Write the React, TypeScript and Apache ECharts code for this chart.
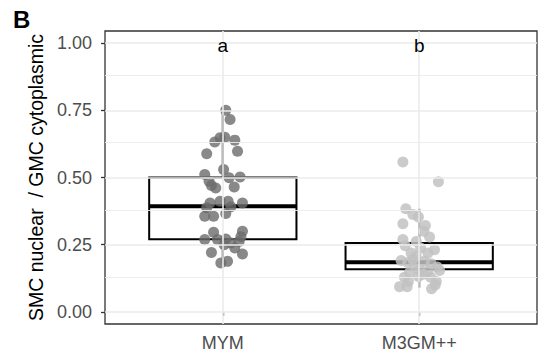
import React, { useEffect, useRef } from "react";
import * as echarts from "echarts";

const categories = ["MYM", "M3GM++"];
const yTicks = [0, 0.25, 0.5, 0.75, 1];
const yMinorTicks = [0.125, 0.375, 0.625, 0.875];
const letters = ["a", "b"];
const letterY = 1;

// box stats: [min, q1, median, q3, max]
const boxStats = [
  [0.18, 0.27, 0.393, 0.5, 0.75],
  [0.09, 0.159, 0.185, 0.256, 0.384],
];

const mymValues = [0.75, 0.716, 0.648, 0.65, 0.632, 0.639, 0.598, 0.588, 0.53, 0.511, 0.499, 0.502, 0.486, 0.47, 0.461, 0.465, 0.405, 0.412, 0.412, 0.405, 0.387, 0.391, 0.356, 0.356, 0.366, 0.296, 0.3, 0.269, 0.269, 0.271, 0.256, 0.262, 0.238, 0.25, 0.221, 0.215, 0.182, 0.188, 0.28];
const mymJitter = [0.015, 0.037, -0.014, 0.01, -0.041, 0.061, 0.075, -0.082, 0.004, -0.092, 0.032, 0.088, -0.07, -0.058, -0.036, 0.058, -0.065, -0.014, 0.027, 0.1, -0.082, 0.041, -0.092, -0.047, 0.015, -0.047, 0.1, -0.092, -0.027, 0.015, 0.041, 0.083, 0.061, 0.007, -0.058, 0.1, -0.01, 0.024, 0.092];

const m3Values = [0.558, 0.484, 0.384, 0.362, 0.353, 0.328, 0.321, 0.3, 0.279, 0.269, 0.246, 0.238, 0.231, 0.219, 0.206, 0.191, 0.184, 0.188, 0.179, 0.172, 0.167, 0.157, 0.147, 0.15, 0.154, 0.129, 0.132, 0.129, 0.113, 0.113, 0.094, 0.094, 0.086, 0.1, 0.14, 0.262, 0.194, 0.219];
const m3Jitter = [-0.083, 0.098, -0.068, -0.032, -0.004, -0.083, 0.032, 0.024, 0.053, -0.083, -0.071, 0.007, 0.078, -0.041, -0.015, -0.092, -0.058, 0.027, 0.061, -0.024, 0.092, 0.002, -0.049, 0.044, 0.104, -0.075, -0.004, 0.058, -0.055, 0.087, -0.1, -0.061, 0.063, 0.082, 0.019, -0.015, -0.032, 0.044];

const FONT = "Liberation Sans";

export default function App() {
  const ref = useRef<HTMLDivElement>(null);
  useEffect(() => {
    document.body.style.margin = "0";
    if (!ref.current) return;
    const chart = echarts.init(ref.current, null, { renderer: "svg" });
    const boxData = boxStats.map((s, i) => [i + 1, ...s]);
    const gridLines: any[] = [
      ...yTicks.map((v) => ({ yAxis: v, lineStyle: { color: "#EBEBEB", width: 1.6, type: "solid" } })),
      ...yMinorTicks.map((v) => ({ yAxis: v, lineStyle: { color: "#EBEBEB", width: 0.9, type: "solid" } })),
      ...categories.map((_, i) => ({ xAxis: i + 1, lineStyle: { color: "#EBEBEB", width: 1.6, type: "solid" } })),
    ];
    chart.setOption({
      animation: false,
      textStyle: { fontFamily: FONT },
      grid: {
        left: 105,
        right: 3,
        top: 31,
        bottom: 39,
        show: true,
        borderColor: "#333333",
        borderWidth: 1.3,
        backgroundColor: "#fff",
      },
      xAxis: {
        type: "value",
        min: 0.4,
        max: 2.6,
        axisLine: { show: false },
        splitLine: { show: false },
        axisTick: { show: true, customValues: [1, 2], length: 4, lineStyle: { color: "#333", width: 1.3 } },
        axisLabel: {
          customValues: [1, 2],
          formatter: (v: number) => categories[Math.round(v) - 1] ?? "",
          color: "#4D4D4D",
          fontSize: 18,
          margin: 10,
          fontFamily: FONT,
        },
      },
      yAxis: {
        type: "value",
        min: -0.045,
        max: 1.045,
        name: "SMC nuclear  / GMC cytoplasmic",
        nameLocation: "middle",
        nameGap: 57,
        nameRotate: 90,
        nameTextStyle: { color: "#000", fontSize: 19.5, fontFamily: FONT },
        axisLine: { show: false },
        splitLine: { show: false },
        axisTick: { show: true, customValues: yTicks, length: 4, lineStyle: { color: "#333", width: 1.3 } },
        axisLabel: {
          customValues: yTicks,
          formatter: (v: number) => v.toFixed(2),
          color: "#4D4D4D",
          fontSize: 18,
          margin: 13,
          fontFamily: FONT,
        },
      },
      series: [
        {
          type: "scatter",
          data: [],
          silent: true,
          z: 1,
          markLine: {
            silent: true,
            symbol: ["none", "none"],
            label: { show: false },
            data: gridLines,
          },
        },
        {
          type: "custom",
          z: 2,
          data: boxData,
          encode: { x: 0, y: [1, 2, 3, 4, 5] },
          renderItem: (params: any, api: any) => {
            const pos = api.value(0);
            const mn = api.value(1);
            const q1 = api.value(2);
            const med = api.value(3);
            const q3 = api.value(4);
            const mx = api.value(5);
            const hw = 0.375;
            const pTopL = api.coord([pos - hw, q3]);
            const pBotR = api.coord([pos + hw, q1]);
            const pMedL = api.coord([pos - hw, med]);
            const pMedR = api.coord([pos + hw, med]);
            const pMax = api.coord([pos, mx]);
            const pQ3 = api.coord([pos, q3]);
            const pQ1 = api.coord([pos, q1]);
            const pMin = api.coord([pos, mn]);
            const ls = { stroke: "#000", lineWidth: 2 };
            return {
              type: "group",
              children: [
                { type: "line", shape: { x1: pMax[0], y1: pMax[1], x2: pQ3[0], y2: pQ3[1] }, style: ls },
                { type: "line", shape: { x1: pQ1[0], y1: pQ1[1], x2: pMin[0], y2: pMin[1] }, style: ls },
                {
                  type: "rect",
                  shape: { x: pTopL[0], y: pTopL[1], width: pBotR[0] - pTopL[0], height: pBotR[1] - pTopL[1] },
                  style: { fill: "#fff", stroke: "#000", lineWidth: 2 },
                },
                {
                  type: "line",
                  shape: { x1: pMedL[0], y1: pMedL[1], x2: pMedR[0], y2: pMedR[1] },
                  style: { stroke: "#000", lineWidth: 4 },
                },
              ],
            };
          },
        },
        {
          type: "scatter",
          z: 3,
          symbolSize: 11,
          itemStyle: { color: "#6b6b6b", opacity: 0.8 },
          data: mymValues.map((v, i) => [1 + mymJitter[i], v]),
        },
        {
          type: "scatter",
          z: 3,
          symbolSize: 11,
          itemStyle: { color: "#c2c2c2", opacity: 0.85 },
          data: m3Values.map((v, i) => [2 + m3Jitter[i], v]),
        },
      ],
    });
    const letterGraphics = letters.map((t, i) => {
      const p = chart.convertToPixel({ xAxisIndex: 0, yAxisIndex: 0 }, [i + 1, letterY]) as number[];
      return {
        type: "text",
        x: p[0],
        y: p[1] + 2,
        z: 100,
        style: {
          text: t,
          fontSize: 19,
          fontFamily: "Liberation Sans, Arial, sans-serif",
          fontWeight: "normal",
          fill: "#000",
          align: "center",
          verticalAlign: "middle",
        },
      };
    });
    chart.setOption({
      graphic: [
        {
          type: "text",
          left: 13,
          top: 7,
          style: { text: "B", fontSize: 24, fontWeight: "bold", fill: "#000", fontFamily: FONT },
        },
        ...letterGraphics,
      ],
    });
    return () => chart.dispose();
  }, []);
  return <div ref={ref} style={{ width: 540, height: 363 }} />;
}
